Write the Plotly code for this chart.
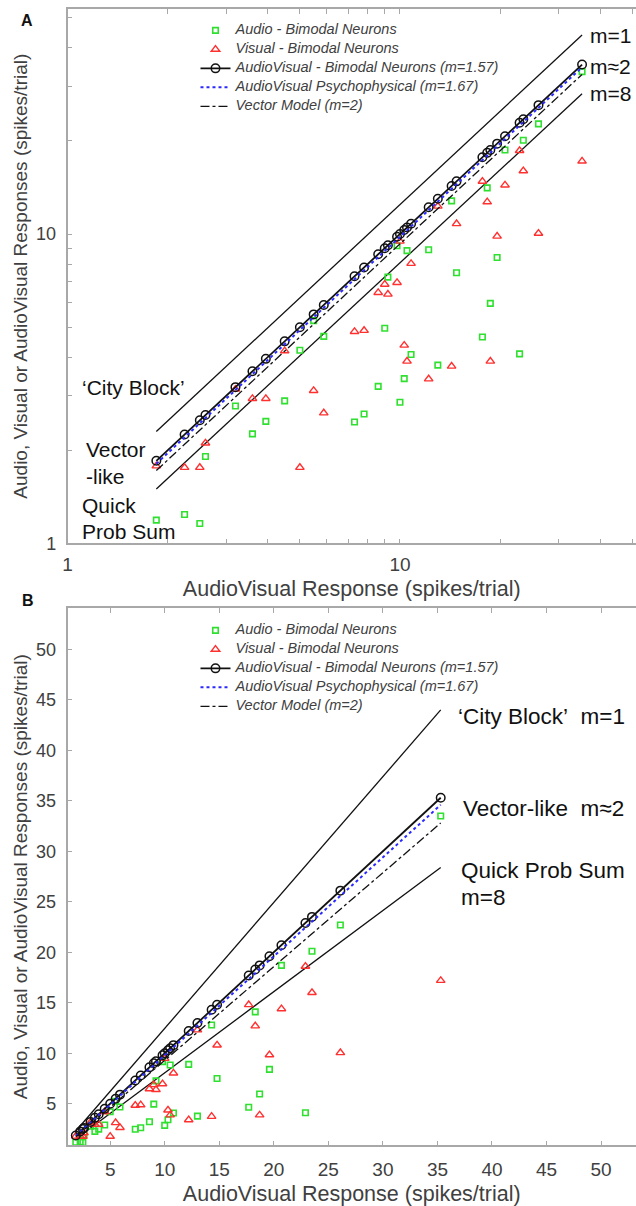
import plotly.graph_objects as go

W, H = 636, 1206

# ---- data (spikes/trial), one entry per bimodal neuron ----
av_response = [1.85, 2.25, 2.5, 2.6, 3.2, 3.6, 3.95, 4.5, 5.0, 5.5, 5.9, 7.3, 7.8, 8.6,
               9.0, 9.2, 9.8, 10.0, 10.3, 10.5, 10.8, 12.2, 13.0, 14.3, 14.8, 17.7,
               18.3, 18.7, 19.6, 20.7, 22.9, 23.5, 26.1, 35.3]
audio_response = [1.19, 1.24, 1.16, 1.91, 2.78, 2.26, 2.48, 2.89, 4.21, 5.25, 4.67, 2.47,
                  2.62, 3.22, 4.96, 7.26, 9.17, 2.86, 3.41, 8.84, 4.08, 8.9, 3.77, 12.8,
                  7.5, 4.65, 14.1, 5.97, 8.4, 18.7, 4.1, 20.1, 22.7, 33.5]
visual_response = [1.78, 1.76, 1.76, 2.11, 3.15, 2.94, 2.94, 4.19, 1.76, 3.12, 2.64, 4.84,
                   4.88, 6.47, 6.88, 6.39, 6.97, 9.48, 4.37, 3.88, 8.03, 3.40, 12.3, 3.74,
                   10.8, 14.8, 12.7, 3.88, 9.84, 14.4, 18.6, 16.0, 10.05, 17.2]

# model lines (end points)
model_x = [1.85, 35.3]
city_block_y = [2.3, 44.0]      # m=1
quick_prob_y = [1.5, 28.4]      # m=8
vector_y = [1.72, 32.8]         # m=2
psycho_y = [1.81, 34.6]         # m=1.67

legend_names = ["Audio - Bimodal Neurons", "Visual - Bimodal Neurons",
                "AudioVisual - Bimodal Neurons (m=1.57)",
                "AudioVisual Psychophysical (m=1.67)", "Vector Model (m=2)"]

log_tickvals = [1, 2, 3, 4, 5, 6, 7, 8, 9, 10, 20, 30, 40, 50]
log_ticktext = ["1", "", "", "", "", "", "", "", "", "10", "", "", "", ""]
lin_tickvals = [5, 10, 15, 20, 25, 30, 35, 40, 45, 50]

GREEN = "#2fe02f"
RED = "#ff3030"
BLUE = "#2a2aff"
AXC = "#a8a8a8"
TXT = "#404040"
FONT = "Liberation Sans, Arial, sans-serif"


def leg(name):
    # legend text drawn a bit larger than the (compact) legend row height
    return "<span style='font-size:14.5px'>" + name + "</span>"


fig = go.Figure()


def add_panel(xa, ya, legend):
    for ys in (city_block_y, quick_prob_y):
        fig.add_trace(go.Scatter(x=model_x, y=ys, mode="lines", xaxis=xa, yaxis=ya,
                                 line=dict(color="#111111", width=1.3),
                                 showlegend=False, hoverinfo="skip"))
    fig.add_trace(go.Scatter(x=av_response, y=audio_response, mode="markers",
                             name=leg(legend_names[0]), xaxis=xa, yaxis=ya, legend=legend,
                             marker=dict(symbol="square-open", size=5.5, color=GREEN,
                                         line=dict(width=1.6))))
    fig.add_trace(go.Scatter(x=av_response, y=visual_response, mode="markers",
                             name=leg(legend_names[1]), xaxis=xa, yaxis=ya, legend=legend,
                             marker=dict(symbol="triangle-up-open", size=7.5, color=RED,
                                         line=dict(width=1.4))))
    fig.add_trace(go.Scatter(x=av_response, y=av_response, mode="lines+markers",
                             name=leg(legend_names[2]), xaxis=xa, yaxis=ya, legend=legend,
                             line=dict(color="#111111", width=1.8),
                             marker=dict(symbol="circle-open", size=8.5, color="#111111",
                                         line=dict(width=1.5))))
    fig.add_trace(go.Scatter(x=model_x, y=psycho_y, mode="lines",
                             name=leg(legend_names[3]), xaxis=xa, yaxis=ya, legend=legend,
                             line=dict(color=BLUE, width=2, dash="dot")))
    fig.add_trace(go.Scatter(x=model_x, y=vector_y, mode="lines",
                             name=leg(legend_names[4]), xaxis=xa, yaxis=ya, legend=legend,
                             line=dict(color="#111111", width=1.3, dash="dashdot")))


add_panel("x", "y", "legend")
add_panel("x2", "y2", "legend2")

xdom = [63 / W, 1.0]
ydomA = [1 - 548 / H, 1 - 9 / H]
ydomB = [1 - 1155 / H, 1 - 613 / H]

common = dict(showline=True, linecolor=AXC, linewidth=1.5, ticks="inside", ticklen=5,
              tickcolor=AXC, tickwidth=1, showgrid=False, zeroline=False)
xtick_font = dict(family=FONT, size=19, color=TXT)
ytick_font = dict(family=FONT, size=18, color=TXT)
xtitle_font = dict(family=FONT, size=21.5, color=TXT)
ytitle_font = dict(family=FONT, size=19, color=TXT)
legend_font = dict(family=FONT, size=10, color=TXT, style="italic")

fig.update_layout(
    width=W, height=H, margin=dict(l=0, r=0, t=0, b=0),
    paper_bgcolor="white", plot_bgcolor="white",
    font=dict(family=FONT, color=TXT),
    xaxis=dict(type="log", range=[0, 1.710], domain=xdom, anchor="y", mirror="ticks",
               tickmode="array", tickvals=log_tickvals, ticktext=log_ticktext,
               tickfont=xtick_font, ticklabelstandoff=3,
               title=dict(text="AudioVisual Response (spikes/trial)", font=xtitle_font,
                          standoff=7), **common),
    yaxis=dict(type="log", range=[0, 1.7276], domain=ydomA, anchor="x",
               tickmode="array", tickvals=log_tickvals, ticktext=log_ticktext,
               ticklabelstandoff=6, tickfont=ytick_font,
               title=dict(text="Audio, Visual or AudioVisual Responses (spikes/trial)",
                          font=ytitle_font, standoff=3), **common),
    xaxis2=dict(range=[1.09, 53.2], domain=xdom, anchor="y2", mirror="ticks",
                tickmode="array", tickvals=lin_tickvals, tickfont=xtick_font,
                ticklabelstandoff=6,
                title=dict(text="AudioVisual Response (spikes/trial)", font=xtitle_font,
                           standoff=8), **common),
    yaxis2=dict(range=[0.87, 54.1], domain=ydomB, anchor="x2",
                tickmode="array", tickvals=lin_tickvals, ticklabelstandoff=6,
                tickfont=ytick_font,
                title=dict(text="Audio, Visual or AudioVisual Responses (spikes/trial)",
                           font=ytitle_font, standoff=3), **common),
    legend=dict(x=192 / W, y=1 - 16 / H, xanchor="left", yanchor="top",
                bgcolor="rgba(0,0,0,0)", borderwidth=0, font=legend_font),
    legend2=dict(x=192 / W, y=1 - 621 / H, xanchor="left", yanchor="top",
                 bgcolor="rgba(0,0,0,0)", borderwidth=0, font=legend_font),
)


def note(text, px, py, size=21, bold=False):
    f = dict(family=FONT, size=size, color="#111111")
    if bold:
        f["weight"] = "bold"
    fig.add_annotation(text=text, x=px / W, y=1 - py / H, xref="paper", yref="paper",
                       xanchor="left", yanchor="middle", align="left",
                       showarrow=False, font=f)


# panel A labels
note("m=1", 588, 36)
note("m\u22482", 588, 67)
note("m=8", 588, 94)
note("\u2018City Block\u2019", 76, 391)
note("Vector", 80, 453)
note("-like", 80, 480)
note("Quick", 76, 510)
note("Prob Sum", 76, 536)
# panel B labels
note("\u2018City Block\u2019\u00a0 m=1", 455, 722, size=22.5)
note("Vector-like\u00a0 m\u22482", 460, 815, size=22.5)
note("Quick Prob Sum", 458, 878, size=22.5)
note("m=8", 458, 905, size=22.5)
# panel letters
note("A", 14, 21, size=16, bold=True)
note("B", 15, 606, size=16, bold=True)

fig.write_html("out.html")
